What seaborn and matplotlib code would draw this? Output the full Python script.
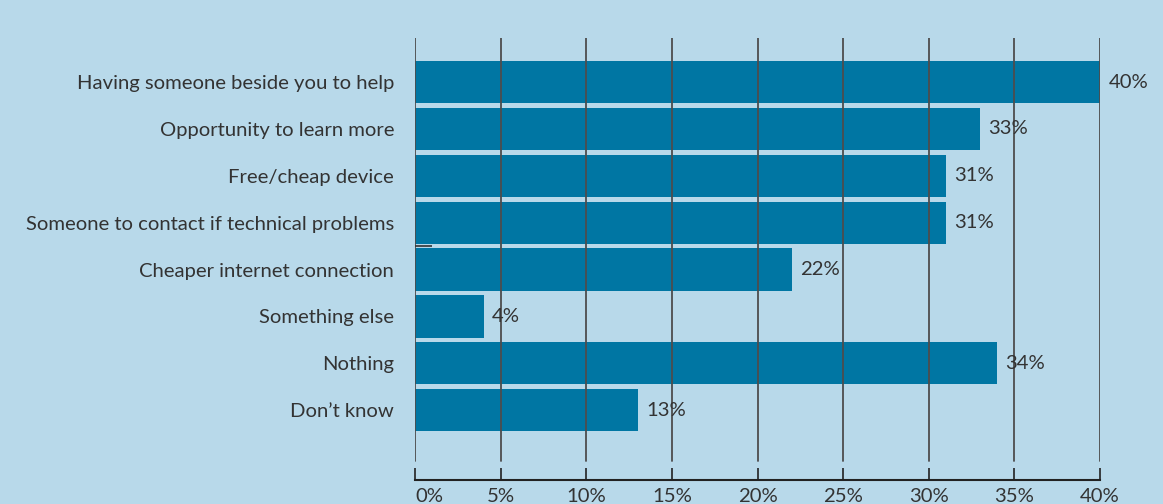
import matplotlib
matplotlib.use("Agg")
import matplotlib.pyplot as plt
import seaborn as sns
import pandas as pd

# --- data ---
categories = [
    "Having someone beside you to help",
    "Opportunity to learn more",
    "Free/cheap device",
    "Someone to contact if technical problems",
    "Cheaper internet connection",
    "Something else",
    "Nothing",
    "Don\u2019t know",
]
values = [40, 33, 31, 31, 22, 4, 34, 13]
x_ticks = [0, 5, 10, 15, 20, 25, 30, 35, 40]
x_tick_labels = [f"{t}%" for t in x_ticks]

df = pd.DataFrame({"category": categories, "value": values})

# --- style ---
bg = "#b8d9ea"
bar_color = "#0076a3"
text_color = "#333333"
fs = 14.6

sns.set_theme(style="white")
plt.rcParams["font.family"] = ["Lato", "DejaVu Sans"]

fig = plt.figure(figsize=(11.63, 5.04), dpi=100, facecolor=bg)
ax = fig.add_axes([415 / 1163, 24 / 504, 685 / 1163, 442 / 504])
ax.set_facecolor(bg)

sns.barplot(data=df, y="category", x="value", orient="h",
            color=bar_color, saturation=1, width=0.9, linewidth=0,
            ax=ax, zorder=2)

ax.set_xlim(0, 40)
ax.set_ylim(8.49, -0.94)

# vertical gridlines drawn over the bars, stopping short of the axis
for t in x_ticks:
    ax.axvline(t, ymin=0.043, ymax=1, color="#4d4d4d", lw=1.3, zorder=3)

# small stray mark between rows 4 and 5
ax.hlines(3.5, 0, 1.0, color="#333333", lw=1.2, zorder=3)

# value labels
ax.bar_label(ax.containers[0], labels=[f"{v}%" for v in values],
             padding=6, fontsize=fs, color=text_color)

ax.set_xticks(x_ticks)
ax.set_xticklabels(x_tick_labels)
ax.get_xticklabels()[0].set_ha("left")
ax.tick_params(axis="x", direction="in", length=9, width=1.2, color="#222222",
               pad=6, labelsize=fs, labelcolor=text_color, bottom=True)
ax.tick_params(axis="y", length=0, pad=15, labelsize=fs, labelcolor=text_color)

ax.set_xlabel("")
ax.set_ylabel("")
for side in ["top", "right", "left"]:
    ax.spines[side].set_visible(False)
ax.spines["bottom"].set_color("#222222")
ax.spines["bottom"].set_linewidth(1.5)

fig.savefig("out.png", dpi=100, facecolor=bg)
